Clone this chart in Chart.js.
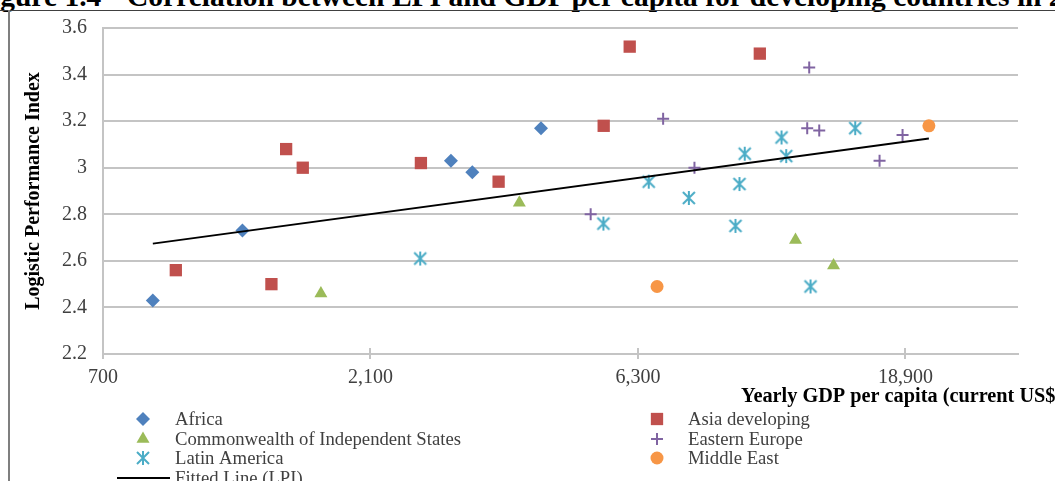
<!DOCTYPE html>
<html>
<head>
<meta charset="utf-8">
<script src="https://cdn.jsdelivr.net/npm/chart.js"></script>
<style>
  html, body { margin: 0; padding: 0; background: #fff; overflow: hidden; }
  #wrap { position: relative; width: 1055px; height: 481px; overflow: hidden; }
  #lpiChart { position: absolute; left: 0; top: 0; }
  .fig-title { position: absolute; top: -18px; font: bold 29.5px "Liberation Serif", "Times New Roman", serif; line-height: 29.5px; white-space: nowrap; color: #000; }
  .frame-top { position: absolute; left: 0; top: 10px; width: 1055px; height: 1px; background: #404040; }
  .frame-left { position: absolute; left: 8px; top: 10px; width: 2px; height: 471px; background: #7f7f7f; }
</style>
</head>
<body>
<div id="wrap">
  <span class="fig-title" style="left:-26px">Figure 1.4</span>
  <span class="fig-title" style="left:127px">Correlation between LPI and GDP per capita for developing countries in 2010</span>
  <div class="frame-top"></div>
  <div class="frame-left"></div>
  <canvas id="lpiChart" width="1055" height="481"></canvas>
</div>
<script>
const FONT = '"Liberation Serif", "Times New Roman", serif';
const GRID = '#c4c4c4';

// values (GDP per capita in US$, LPI score)
const seriesNames = ['Africa', 'Asia developing', 'Commonwealth of Independent States', 'Eastern Europe', 'Latin America', 'Middle East'];

const africaGdp = [859, 1241, 2922, 3190, 4230];
const africaLpi = [2.43, 2.73, 3.03, 2.98, 3.17];

const asiaGdp = [944, 1398, 1485, 1590, 2583, 3554, 5472, 6089, 10390];
const asiaLpi = [2.56, 2.50, 3.08, 3.00, 3.02, 2.94, 3.18, 3.52, 3.49];

const cisGdp = [1713, 3870, 12030, 14065];
const cisLpi = [2.46, 2.85, 2.69, 2.58];

const easternGdp = [5187, 6985, 7944, 12623, 12727, 13262, 16990, 18673];
const easternLpi = [2.80, 3.21, 3.00, 3.17, 3.43, 3.16, 3.03, 3.14];

const latinGdp = [2576, 5465, 6583, 7762, 9402, 9556, 9766, 11358, 11580, 12796, 15372];
const latinLpi = [2.61, 2.76, 2.94, 2.87, 2.75, 2.93, 3.06, 3.13, 3.05, 2.49, 3.17];

const middleEastGdp = [6813, 20806];
const middleEastLpi = [2.49, 3.18];

const fittedName = 'Fitted Line (LPI)';
const fittedGdp = [859, 20806];
const fittedLpi = [2.674, 3.125];

const xTickValues = [700, 2100, 6300, 18900];
const yTickValues = [2.2, 2.4, 2.6, 2.8, 3.0, 3.2, 3.4, 3.6];

const xTitle = 'Yearly GDP per capita (current US$)';
const yTitle = 'Logistic Performance Index';

const pts = (xs, ys) => xs.map((x, i) => ({ x: x, y: ys[i] }));

// Excel style asterisk: an X with a vertical bar
function makeAsterisk(color) {
    const c = document.createElement('canvas');
    c.width = 16;
    c.height = 16;
    const g = c.getContext('2d');
    g.strokeStyle = color;
    g.lineWidth = 2;
    g.beginPath();
    g.moveTo(2, 2); g.lineTo(14, 14);
    g.moveTo(14, 2); g.lineTo(2, 14);
    g.moveTo(8, 1); g.lineTo(8, 15);
    g.stroke();
    return c;
}

const markers = [
    { color: '#4F81BD', style: 'rectRot', radius: 7, border: 0 },
    { color: '#C0504D', style: 'rect', radius: 8.7, border: 0 },
    { color: '#9BBB59', style: 'triangle', radius: 7.5, border: 0 },
    { color: '#8064A2', style: 'cross', radius: 6, border: 2 },
    { color: '#4BACC6', style: makeAsterisk('#4BACC6'), radius: 8, border: 0 },
    { color: '#F79646', style: 'circle', radius: 6.5, border: 0 }
];

const seriesData = [
    pts(africaGdp, africaLpi),
    pts(asiaGdp, asiaLpi),
    pts(cisGdp, cisLpi),
    pts(easternGdp, easternLpi),
    pts(latinGdp, latinLpi),
    pts(middleEastGdp, middleEastLpi)
];

const datasets = seriesNames.map((name, i) => ({
    label: name,
    data: seriesData[i],
    pointStyle: markers[i].style,
    pointRadius: markers[i].radius,
    pointBackgroundColor: markers[i].color,
    pointBorderColor: markers[i].color,
    pointBorderWidth: markers[i].border,
    showLine: false,
    order: 2
}));

datasets.push({
    label: fittedName,
    data: pts(fittedGdp, fittedLpi),
    showLine: true,
    borderColor: '#000',
    borderWidth: 2,
    pointRadius: 0,
    order: 1
});

// legend in two columns + x title + tick marks crossing the axis
const extrasPlugin = {
    id: 'extras',
    afterDraw(chart) {
        const ctx = chart.ctx;
        const xs = chart.scales.x;

        ctx.save();
        ctx.strokeStyle = GRID;
        ctx.lineWidth = 2;
        xs.ticks.forEach(t => {
            const px = Math.round(xs.getPixelForValue(t.value));
            ctx.beginPath();
            ctx.moveTo(px, xs.top - 6);
            ctx.lineTo(px, xs.top);
            ctx.stroke();
        });

        ctx.fillStyle = '#000';
        ctx.font = 'bold 20.3px ' + FONT;
        ctx.textBaseline = 'middle';
        ctx.fillText(xTitle, 741, 397);

        const colX = [143, 657];
        const textX = [175, 688];
        const rowY = [419, 439, 458, 478];
        ctx.font = '18.7px ' + FONT;
        chart.data.datasets.forEach((ds, i) => {
            const col = i % 2;
            const y = rowY[Math.floor(i / 2)];
            if (ds.showLine) {
                ctx.strokeStyle = ds.borderColor;
                ctx.lineWidth = 2;
                ctx.beginPath();
                ctx.moveTo(117, y);
                ctx.lineTo(170, y);
                ctx.stroke();
            } else {
                ctx.fillStyle = ds.pointBackgroundColor;
                ctx.strokeStyle = ds.pointBorderColor;
                ctx.lineWidth = ds.pointBorderWidth;
                Chart.helpers.drawPoint(ctx, {
                    pointStyle: ds.pointStyle,
                    radius: ds.pointRadius,
                    rotation: 0,
                    borderWidth: ds.pointBorderWidth
                }, colX[col], y);
            }
            ctx.fillStyle = '#404040';
            ctx.fillText(ds.label, textX[col], y + 1);
        });
        ctx.restore();
    }
};

new Chart(document.getElementById('lpiChart').getContext('2d'), {
    type: 'scatter',
    data: { datasets: datasets },
    plugins: [extrasPlugin],
    options: {
        responsive: false,
        animation: false,
        devicePixelRatio: 1,
        layout: { padding: { top: 25, right: 37, left: 0, bottom: 0 } },
        plugins: {
            legend: { display: false },
            tooltip: { enabled: false }
        },
        scales: {
            x: {
                type: 'logarithmic',
                min: 700,
                max: 30000,
                afterBuildTicks: (axis) => { axis.ticks = xTickValues.map(v => ({ value: v })); },
                afterFit: (axis) => { axis.height = 127; },
                grid: { drawOnChartArea: false, drawTicks: true, tickLength: 5, color: GRID, lineWidth: 2 },
                border: { color: GRID, width: 2 },
                ticks: {
                    autoSkip: false,
                    maxRotation: 0,
                    padding: 7,
                    color: '#404040',
                    font: { family: FONT, size: 20 },
                    callback: (v) => Number(v).toLocaleString('en-US')
                }
            },
            y: {
                min: 2.2,
                max: 3.6,
                afterBuildTicks: (axis) => { axis.ticks = yTickValues.map(v => ({ value: v })); },
                afterFit: (axis) => { axis.width = 103; },
                grid: { color: GRID, lineWidth: 2, drawTicks: false },
                border: { color: GRID, width: 2 },
                ticks: {
                    padding: 16,
                    color: '#404040',
                    font: { family: FONT, size: 20 },
                    callback: (v) => String(+Number(v).toFixed(1))
                },
                title: {
                    display: true,
                    text: yTitle,
                    color: '#000',
                    font: { family: FONT, size: 20, weight: 'bold' },
                    padding: { top: 22 }
                }
            }
        }
    }
});
</script>
</body>
</html>
